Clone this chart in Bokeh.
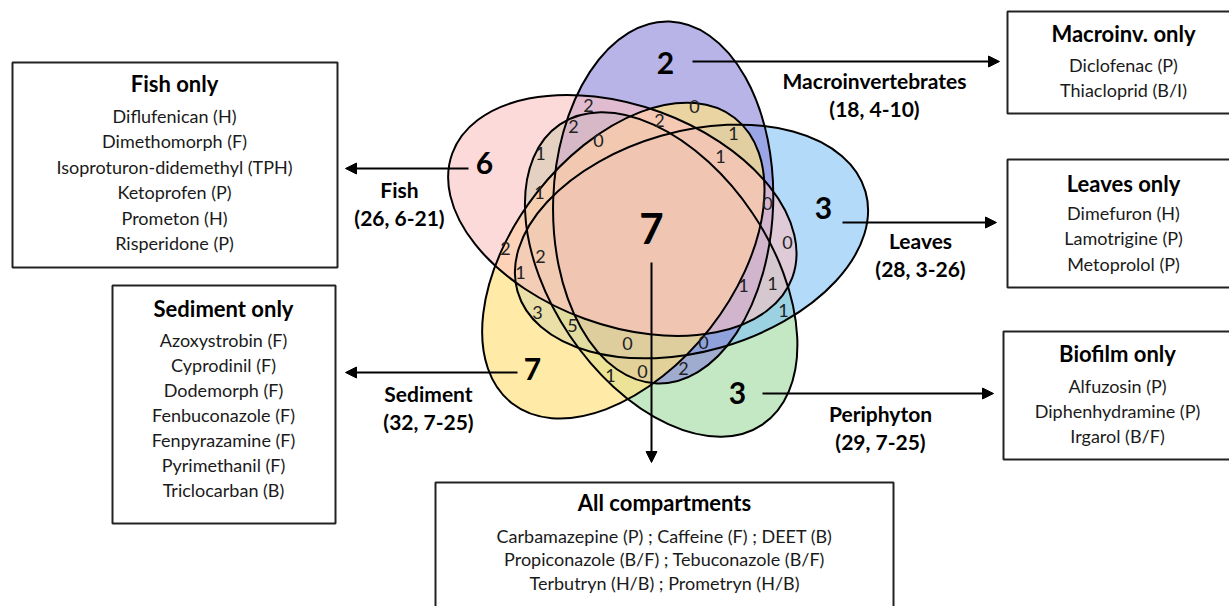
import math
from bokeh.plotting import figure
from bokeh.models import Range1d, Arrow, NormalHead
from bokeh.embed import file_html
from bokeh.resources import INLINE
from bokeh.core.properties import value

# ---------------- data ----------------
sets = ["Macroinvertebrates", "Fish", "Sediment", "Periphyton", "Leaves"]
totals = [18, 26, 32, 29, 28]
ranges = ["4-10", "6-21", "7-25", "7-25", "3-26"]
unique_counts = [2, 6, 7, 3, 3]
all_count = 7
overlap_counts = [2, 2, 0, 0, 2, 1, 1, 1, 1, 0, 0, 2, 2, 1, 1, 1, 1, 3, 5, 0, 0, 1, 0, 2]

box_titles = ["Fish only", "Sediment only", "Macroinv. only", "Leaves only", "Biofilm only", "All compartments"]
fish_only = ["Diflufenican (H)", "Dimethomorph (F)", "Isoproturon-didemethyl (TPH)",
             "Ketoprofen (P)", "Prometon (H)", "Risperidone (P)"]
sediment_only = ["Azoxystrobin (F)", "Cyprodinil (F)", "Dodemorph (F)", "Fenbuconazole (F)",
                 "Fenpyrazamine (F)", "Pyrimethanil (F)", "Triclocarban (B)"]
macroinv_only = ["Diclofenac (P)", "Thiacloprid (B/I)"]
leaves_only = ["Dimefuron (H)", "Lamotrigine (P)", "Metoprolol (P)"]
biofilm_only = ["Alfuzosin (P)", "Diphenhydramine (P)", "Irgarol (B/F)"]
all_comp = ["Carbamazepine (P) ; Caffeine (F) ; DEET (B)",
            "Propiconazole (B/F) ; Tebuconazole (B/F)",
            "Terbutryn (H/B) ; Prometryn (H/B)"]

# ---------------- layout (screen px) ----------------
FONT = "Lato"
W, H = 1229, 606
def Y(y):
    return H - y

# order: macro, fish, sediment, periphyton, leaves
set_colors = ["#8982d9", "#fcc1c1", "#ffe183", "#9dd99d", "#82c1f7"]
set_alpha = [0.6, 0.6, 0.7, 0.6, 0.6]
draw_order = [3, 4, 0, 2, 1]
nudges = [(0, 0), (5, -2), (6, -5), (-2, -6), (0, 0)]
C = (650, 241)
d = 41
a, b = 181, 110

p = figure(width=W, height=H, x_range=Range1d(0, W), y_range=Range1d(0, H),
           output_backend="svg", toolbar_location=None, x_axis_type=None, y_axis_type=None,
           min_border=0, outline_line_color=None)
p.grid.visible = False
p.background_fill_color = "white"

ell = []
for k in range(5):
    ca = math.radians(72 + 72 * k)
    ax = math.radians(88 + 72 * k)
    cx = C[0] + d * math.cos(ca) + nudges[k][0]
    cy = Y(C[1]) + d * math.sin(ca) - nudges[k][1]
    ell.append((cx, cy, ax))

for k in draw_order:
    cx, cy, ax = ell[k]
    p.ellipse(x=cx, y=cy, width=2 * a, height=2 * b, angle=ax,
              fill_color=set_colors[k], fill_alpha=set_alpha[k], line_color=None)
for k in range(5):
    cx, cy, ax = ell[k]
    p.ellipse(x=cx, y=cy, width=2 * a, height=2 * b, angle=ax,
              fill_color=None, line_color="black", line_width=2)

# small overlap numbers
ov_pos = [(588, 105), (573, 126), (598, 140), (694, 106), (659, 120), (733, 133), (720, 156),
          (540, 153), (539, 192), (767, 203), (787, 242), (505, 248), (540, 256), (520, 272),
          (743, 285), (772, 283), (783, 310), (537, 312), (572, 325), (627, 343), (703, 342),
          (610, 375), (642, 371), (683, 368)]
p.text(x=[q[0] for q in ov_pos], y=[Y(q[1]) for q in ov_pos], text=[str(v) for v in overlap_counts],
       text_font=value(FONT), text_font_size="18px", text_color="#222222",
       text_align="center", text_baseline="middle")

# unique counts
uq_pos = [(665, 62), (484, 162), (532, 368), (737, 392), (823, 207)]
p.text(x=[q[0] for q in uq_pos], y=[Y(q[1]) for q in uq_pos], text=[str(v) for v in unique_counts],
       text_font=value(FONT), text_font_size="30px", text_font_style="bold", text_color="black",
       text_align="center", text_baseline="middle")
p.text(x=[651], y=[Y(228)], text=[str(all_count)], text_font=value(FONT), text_font_size="42px",
       text_font_style="bold", text_color="black", text_align="center", text_baseline="middle")

# set labels
lab_pos = [(874, 80), (399, 189), (428, 393), (880, 413), (920, 240)]
for k in range(5):
    x0, y0 = lab_pos[k]
    p.text(x=[x0, x0], y=[Y(y0), Y(y0 + 28)],
           text=[sets[k], "(%d, %s)" % (totals[k], ranges[k])],
           text_font=value(FONT), text_font_size="21px", text_font_style="bold",
           text_color="black", text_align="center", text_baseline="middle")

# arrows
arrows = [((692, 61), (999, 61)), ((468, 168), (345, 168)), ((517, 372), (345, 372)),
          ((762, 393), (993, 393)), ((842, 222), (996, 222)), ((651, 262), (651, 462))]
for (x0, y0), (x1, y1) in arrows:
    p.add_layout(Arrow(end=NormalHead(size=11, fill_color="black", line_color="black"),
                       x_start=x0, y_start=Y(y0), x_end=x1, y_end=Y(y1),
                       line_color="black", line_width=2))

# boxes: (left, top, right, bottom, title_y, item_y0, spacing, items)
boxes = [
    (12, 62, 337, 267, 83, 115, 25.5, fish_only),
    (112, 285, 335, 523, 308, 339, 25, sediment_only),
    (1007, 11, 1250, 113, 33, 64, 25, macroinv_only),
    (1007, 159, 1250, 287, 183, 212, 25.5, leaves_only),
    (1003, 331, 1250, 459, 353, 385, 25, biofilm_only),
    (435, 482, 893, 640, 502, 535, 23.5, all_comp),
]
centers_x = [174, 223, 1123, 1123, 1117, 664]
for i, (l, t, r, bt, ty, iy, sp, items) in enumerate(boxes):
    p.quad(left=l, right=r, top=Y(t), bottom=Y(bt), fill_color="white",
           line_color="#222222", line_width=2)
    cxb = centers_x[i]
    p.text(x=[cxb], y=[Y(ty)], text=[box_titles[i]], text_font=value(FONT), text_font_size="22px",
           text_font_style="bold", text_color="black", text_align="center", text_baseline="middle")
    p.text(x=[cxb] * len(items), y=[Y(iy + j * sp) for j in range(len(items))], text=items,
           text_font=value(FONT), text_font_size="18px", text_color="#1a1a1a",
           text_align="center", text_baseline="middle")

open("out.html", "w").write(file_html(p, INLINE))
